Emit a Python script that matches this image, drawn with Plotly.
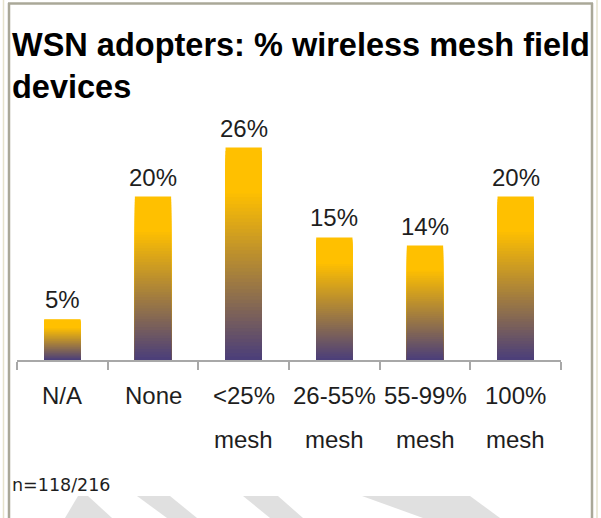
import plotly.graph_objects as go

# Survey data: share of wireless mesh field devices among WSN adopters
categories = ["N/A", "None", "<25% mesh", "26-55% mesh", "55-99% mesh", "100% mesh"]
label_line1 = ["N/A", "None", "<25%", "26-55%", "55-99%", "100%"]
label_line2 = ["", "", "mesh", "mesh", "mesh", "mesh"]
values = [5, 20, 26, 15, 14, 20]
title_lines = ["WSN adopters: % wireless mesh field", "devices"]
sample_note = "n=118/216"

# Canvas geometry
W, H = 601, 518
ML, MR, MT, MB = 17, 40, 100, 158
PLOT_W = W - ML - MR
PLOT_H = H - MT - MB
PX_PER_PCT = 8.17


def px_x(px):
    return (px - ML) / PLOT_W


def px_y(py):
    return (H - MB - py) / PLOT_H


# Vertical gradient: purple at the base of each bar, gold at the top
BOTTOM = (72, 60, 124)
TOP = (255, 192, 0)
SOLID_FROM = 0.80


def grad_color(f):
    t = min(f / SOLID_FROM, 1.0)
    r, g, b = (round(BOTTOM[i] + (TOP[i] - BOTTOM[i]) * t) for i in range(3))
    return f"rgb({r},{g},{b})"


N_STEPS = 60
fig = go.Figure()
for k in range(N_STEPS):
    h = 1 - k / N_STEPS
    fig.add_trace(go.Bar(
        x=categories,
        y=[v * h for v in values],
        marker=dict(color=grad_color(h), line=dict(width=0)),
        showlegend=False,
        hoverinfo="skip",
    ))

LABEL_FONT = dict(family="Liberation Sans, Arial", size=24, color="#1e1e1e")

annotations = []
# two-line bold heading
for txt, cy in zip(title_lines, (44.5, 87.5)):
    annotations.append(dict(
        x=px_x(10), y=px_y(cy), xref="paper", yref="paper", text=f"<b>{txt}</b>",
        showarrow=False, xanchor="left", yanchor="middle",
        font=dict(family="Liberation Sans, Arial", size=32.5, color="black"),
    ))
# value labels above the bars
for c, v in zip(categories, values):
    annotations.append(dict(
        x=c, y=v, xref="x", yref="y", text=f"{v}%", showarrow=False,
        yanchor="bottom", yshift=4, font=LABEL_FONT,
    ))
# two-row category labels
for c, l1, l2 in zip(categories, label_line1, label_line2):
    for txt, shift in ((l1, -35), (l2, -79)):
        if not txt:
            continue
        annotations.append(dict(
            x=c, y=0, xref="x", yref="paper", text=txt.replace("<", "&lt;"),
            showarrow=False, yanchor="middle", yshift=shift, font=LABEL_FONT,
        ))
# sample size footnote
annotations.append(dict(
    x=px_x(10), y=px_y(485), xref="paper", yref="paper", text=sample_note,
    showarrow=False, xanchor="left", yanchor="middle",
    font=dict(family="DejaVu Sans", size=17.5, color="#1e1e1e"),
))

shapes = []
# page frame
frame_gray = "#aaa898"
frame_tan = "#e6e2cc"
for x0, y0, x1, y1, col, w in [
    (3.5, 0, 3.5, H, frame_tan, 1.5),
    (597, 0, 597, H, frame_tan, 1.5),
    (9, 3, 9, H, frame_gray, 2.5),
    (592, 3, 592, H, frame_gray, 2.5),
    (8, 3.5, 593, 3.5, frame_gray, 2.5),
]:
    shapes.append(dict(type="line", xref="paper", yref="paper",
                       x0=px_x(x0), y0=px_y(y0), x1=px_x(x1), y1=px_y(y1),
                       line=dict(color=col, width=w)))

# faint logo watermark cut off at the bottom edge
wm_polys = [
    [(78, 496), (88, 496), (112, 518), (65, 518)],
    [(137, 496), (170, 496), (197, 518), (167, 518)],
    [(243, 496), (278, 496), (303, 518), (270, 518)],
    [(362, 496), (470, 496), (500, 518), (423, 518)],
]
for poly in wm_polys:
    path = "M " + " L ".join(f"{px_x(x)},{px_y(y)}" for x, y in poly) + " Z"
    shapes.append(dict(type="path", xref="paper", yref="paper", path=path,
                       fillcolor="#e0e0e0", line=dict(width=0), layer="below"))

fig.update_layout(
    width=W, height=H,
    margin=dict(l=ML, r=MR, t=MT, b=MB, pad=0),
    paper_bgcolor="white", plot_bgcolor="white",
    barmode="overlay", bargap=0.6,
    xaxis=dict(
        type="category", showline=True, linecolor="#a8a8a8", linewidth=1.5,
        ticks="outside", tickson="boundaries", ticklen=8, tickcolor="#a8a8a8",
        tickwidth=1.5, showticklabels=False, showgrid=False, zeroline=False,
        fixedrange=True,
    ),
    yaxis=dict(range=[0, PLOT_H / PX_PER_PCT], visible=False, showgrid=False,
               zeroline=False, fixedrange=True),
    annotations=annotations,
    shapes=shapes,
)

fig.write_html("out.html")
